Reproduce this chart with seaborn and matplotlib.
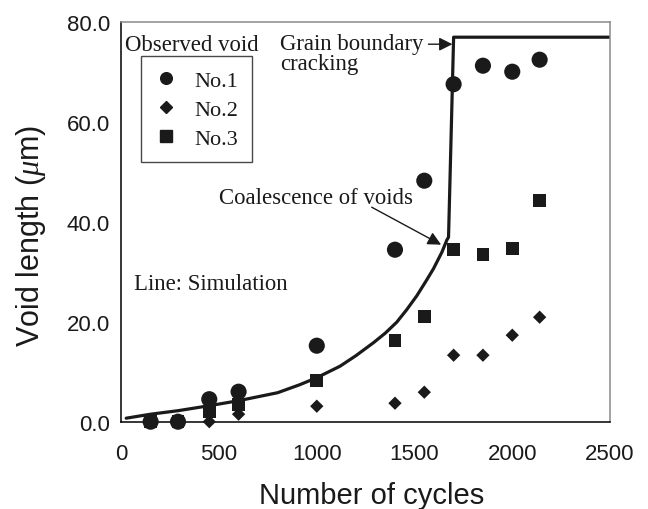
import numpy as np
import pandas as pd
import matplotlib
matplotlib.use("Agg")
import matplotlib.pyplot as plt
import seaborn as sns
from matplotlib.lines import Line2D

# ---- data ----
cycles = [150, 290, 450, 600, 1000, 1400, 1550, 1700, 1850, 2000, 2140]
void_no1 = [0.0, 0.0, 4.5, 6.0, 15.2, 34.4, 48.2, 67.5, 71.2, 70.0, 72.4]
void_no2 = [0.0, 0.0, 0.0, 1.5, 3.1, 3.7, 5.9, 13.3, 13.3, 17.3, 20.9]
void_no3 = [0.0, 0.0, 2.1, 3.5, 8.3, 16.2, 21.1, 34.5, 33.5, 34.7, 44.3]
series_names = ["No.1", "No.2", "No.3"]

sim_cycles = [25, 150, 290, 450, 600, 800, 913, 1000, 1119, 1200, 1290, 1350, 1409,
              1460, 1512, 1560, 1597, 1640, 1665, 1674, 1700, 2500]
sim_length = [0.7, 1.5, 2.2, 3.2, 4.2, 5.8, 7.4, 8.8, 11.1, 13.2, 15.8, 17.7, 19.9,
              22.4, 25.2, 28.2, 30.6, 33.9, 36.3, 36.9, 76.9, 76.9]

x_ticks = [0, 500, 1000, 1500, 2000, 2500]
y_ticks = [0, 20, 40, 60, 80]

# ---- figure ----
sns.set_theme(style="white")
plt.rcParams["font.family"] = ["Liberation Sans", "DejaVu Sans"]
plt.rcParams["mathtext.fontset"] = "custom"
plt.rcParams["mathtext.it"] = "Liberation Serif:italic"

fig = plt.figure(figsize=(6.48, 5.10), dpi=100)
ax = fig.add_axes([121.3 / 648, 1 - 422.7 / 510, (610 - 121.3) / 648, 400 / 510])

ink = "#1a1a1a"
obs = pd.DataFrame({
    "cycles": cycles * 3,
    "length": void_no1 + void_no2 + void_no3,
    "void": [n for n in series_names for _ in cycles],
})
marker_map = {"No.1": "o", "No.2": "D", "No.3": "s"}
size_map = {"No.1": 135, "No.2": 46, "No.3": 83}
for name in ["No.1", "No.3", "No.2"]:
    sub = obs[obs["void"] == name]
    sns.scatterplot(data=sub, x="cycles", y="length", marker=marker_map[name],
                    s=size_map[name], color=ink, edgecolor="none", ax=ax,
                    clip_on=False, zorder=3, legend=False)

sim = pd.DataFrame({"cycles": sim_cycles, "length": sim_length})
sns.lineplot(data=sim, x="cycles", y="length", sort=False, color=ink,
             linewidth=2.3, ax=ax, zorder=2)

ax.set_xlim(0, 2500)
ax.set_ylim(0, 80)
ax.set_xticks(x_ticks)
ax.set_xticklabels([str(t) for t in x_ticks])
ax.set_yticks(y_ticks)
ax.set_yticklabels([f"{t:.1f}" for t in y_ticks])
ax.tick_params(direction="in", length=6, width=1, color="black",
               labelsize=16, labelcolor=ink)
ax.tick_params(axis="x", pad=15)
ax.tick_params(axis="y", pad=8)
for side in ["left", "bottom"]:
    ax.spines[side].set_color("black")
    ax.spines[side].set_linewidth(1.1)
for side in ["top", "right"]:
    ax.spines[side].set_color("#8a8a8a")
    ax.spines[side].set_linewidth(1.1)

ax.set_xlabel("Number of cycles", fontsize=21, color=ink)
ax.set_ylabel(r"Void length ($\mu$m)", fontsize=22, color=ink)
ax.xaxis.set_label_coords(0.513, -0.1475)
ax.yaxis.set_label_coords(-0.151, 0.467)

serif = ["Liberation Serif", "DejaVu Serif"]
tfs = 16.4
ax.text(19, 74.4, "Observed void", family=serif, fontsize=tfs, color=ink, va="baseline")
ax.text(812, 74.5, "Grain boundary", family=serif, fontsize=tfs, color=ink, va="baseline")
ax.text(812, 70.5, "cracking", family=serif, fontsize=tfs, color=ink, va="baseline")
ax.text(500, 43.7, "Coalescence of voids", family=serif, fontsize=tfs, color=ink, va="baseline")
ax.text(66, 26.5, "Line: Simulation", family=serif, fontsize=tfs, color=ink, va="baseline")

arrow = dict(arrowstyle="-|>", color=ink, lw=1.0, mutation_scale=20, shrinkA=0, shrinkB=0)
ax.annotate("", xy=(1694, 75.5), xytext=(1571, 75.5), arrowprops=arrow)
ax.annotate("", xy=(1636, 35.4), xytext=(1281, 42.9), arrowprops=arrow)

handles = [
    Line2D([], [], marker="o", ls="none", color=ink, markersize=8.4),
    Line2D([], [], marker="D", ls="none", color=ink, markersize=6.1),
    Line2D([], [], marker="s", ls="none", color=ink, markersize=8.0),
]
leg = ax.legend(handles, series_names, loc="upper left",
                bbox_to_anchor=(0.0397, 0.9135), borderaxespad=0,
                frameon=True, fancybox=False, edgecolor=ink,
                prop={"family": serif, "size": 16},
                handletextpad=0.8, labelspacing=0.38, borderpad=0.62,
                handlelength=1.0)
leg.get_frame().set_linewidth(1.0)
for t in leg.get_texts():
    t.set_color(ink)

fig.savefig("out.png", dpi=100)
